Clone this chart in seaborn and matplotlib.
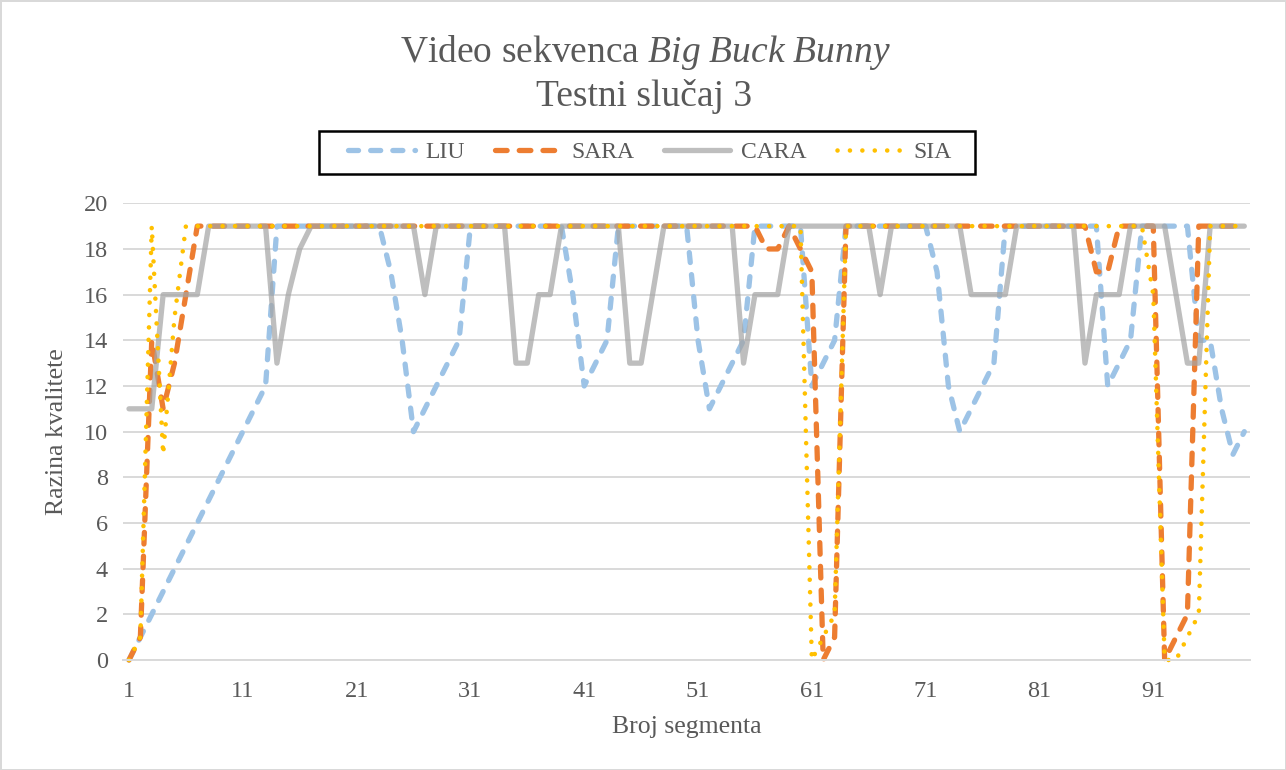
import numpy as np
import pandas as pd
import matplotlib
matplotlib.use("Agg")
import matplotlib.pyplot as plt
import seaborn as sns
from matplotlib.lines import Line2D
from matplotlib.patches import Rectangle

# ---------------- data (segments 1..99, rows of ten) ----------------
segments = np.arange(1, 100)

liu = [0, 1, 2, 3, 4, 5, 6, 7, 8, 9,
       10, 11, 12, 19, 19, 19, 19, 19, 19, 19,
       19, 19, 19, 17, 14, 10, 11, 12, 13, 14,
       19, 19, 19, 19, 19, 19, 19, 19, 19, 16,
       12, 13, 14, 19, 19, 19, 19, 19, 19, 19,
       14, 11, 12, 13, 14, 19, 19, 19, 19, 19,
       12, 13, 14, 19, 19, 19, 19, 19, 19, 19,
       19, 17, 12, 10, 11, 12, 13, 19, 19, 19,
       19, 19, 19, 19, 19, 19, 12, 13, 14, 19,
       19, 19, 19, 19, 14, 14, 11, 9, 10]

sara = [0, 1, 14, 11, 13, 16, 19, 19, 19, 19,
        19, 19, 19, 19, 19, 19, 19, 19, 19, 19,
        19, 19, 19, 19, 19, 19, 19, 19, 19, 19,
        19, 19, 19, 19, 19, 19, 19, 19, 19, 19,
        19, 19, 19, 19, 19, 19, 19, 19, 19, 19,
        19, 19, 19, 19, 19, 19, 18, 18, 19, 18,
        17, 0, 1, 19, 19, 19, 19, 19, 19, 19,
        19, 19, 19, 19, 19, 19, 19, 19, 19, 19,
        19, 19, 19, 19, 19, 17, 17, 19, 19, 19,
        19, 0, 1, 2, 19, 19, 19, 19, 19]

cara = [11, 11, 11, 16, 16, 16, 16, 19, 19, 19,
        19, 19, 19, 13, 16, 18, 19, 19, 19, 19,
        19, 19, 19, 19, 19, 19, 16, 19, 19, 19,
        19, 19, 19, 19, 13, 13, 16, 16, 19, 19,
        19, 19, 19, 19, 13, 13, 16, 19, 19, 19,
        19, 19, 19, 19, 13, 16, 16, 16, 19, 19,
        19, 19, 19, 19, 19, 19, 16, 19, 19, 19,
        19, 19, 19, 19, 16, 16, 16, 16, 19, 19,
        19, 19, 19, 19, 13, 16, 16, 16, 19, 19,
        19, 19, 16, 13, 13, 19, 19, 19, 19]

sia = [0, 1, 19, 9, 15, 19, 19, 19, 19, 19,
       19, 19, 19, 19, 19, 19, 19, 19, 19, 19,
       19, 19, 19, 19, 19, 19, 19, 19, 19, 19,
       19, 19, 19, 19, 19, 19, 19, 19, 19, 19,
       19, 19, 19, 19, 19, 19, 19, 19, 19, 19,
       19, 19, 19, 19, 19, 19, 19, 19, 19, 19,
       0, 1, 2, 19, 19, 19, 19, 19, 19, 19,
       19, 19, 19, 19, 19, 19, 19, 19, 19, 19,
       19, 19, 19, 19, 19, 19, 19, 19, 19, 19,
       16, 0, 0, 1, 2, 19, 19, 19, 19]

series_names = ["LIU", "SARA", "CARA", "SIA"]
x_tick_labels = ["1", "11", "21", "31", "41", "51", "61", "71", "81", "91"]
y_ticks = [0, 2, 4, 6, 8, 10, 12, 14, 16, 18, 20]

title_line1 = r"Video sekvenca $\mathit{Big\ Buck\ Bunny}$"
title_line2 = "Testni slučaj 3"
x_label = "Broj segmenta"
y_label = "Razina kvalitete"

# ---------------- style ----------------
sns.set_theme(style="white")
plt.rcParams["font.family"] = ["Liberation Serif", "DejaVu Serif"]
plt.rcParams["mathtext.fontset"] = "custom"
plt.rcParams["mathtext.rm"] = "Liberation Serif"
plt.rcParams["mathtext.it"] = "Liberation Serif:italic"

TEXT = "#595959"
GRID = "#D9D9D9"

W, H = 1286, 770
fig = plt.figure(figsize=(W / 100, H / 100), dpi=100)
fig.patch.set_facecolor("white")
fig.patch.set_edgecolor(GRID)
fig.patch.set_linewidth(2)

left_px, right_px, top_px, bot_px = 123.3, 1250, 203.3, 660
ax = fig.add_axes([left_px / W, 1 - bot_px / H, (right_px - left_px) / W, (bot_px - top_px) / H])

styles = {
    "LIU": dict(color="#9DC3E6", lw=3.8, dashes=(1.9, 2.3), alpha=1.0),
    "SARA": dict(color="#ED7D31", lw=3.8, dashes=(2.2, 2.3), alpha=1.0),
    "CARA": dict(color="#A5A5A5", lw=3.8, dashes=None, alpha=0.72),
    "SIA": dict(color="#FFC000", lw=3.3, dashes=(0.01, 2.7), alpha=1.0),
}
data = {"LIU": liu, "SARA": sara, "CARA": cara, "SIA": sia}

handles = []
for name in series_names:
    st = styles[name]
    sns.lineplot(x=segments, y=data[name], ax=ax, color=st["color"],
                 linewidth=st["lw"], alpha=st["alpha"], legend=False,
                 sort=False, errorbar=None)
    line = ax.lines[-1]
    if st["dashes"] is not None:
        line.set_linestyle((0, st["dashes"]))
    line.set_dash_capstyle("round")
    line.set_dash_joinstyle("round")
    line.set_solid_capstyle("round")
    line.set_solid_joinstyle("round")
    line.set_clip_on(False)
    ls = (0, st["dashes"]) if st["dashes"] is not None else "-"
    h = Line2D([0], [0], color=st["color"], lw=st["lw"], alpha=st["alpha"],
               linestyle=ls, dash_capstyle="round", solid_capstyle="round")
    handles.append(h)

ax.set_xlim(0.5, 99.5)
ax.set_ylim(0, 20)
ax.set_xlabel("")
ax.set_ylabel("")

ax.set_yticks(y_ticks)
ax.set_yticklabels([str(v) for v in y_ticks])
ax.set_xticks([int(t) for t in x_tick_labels])
ax.set_xticklabels(x_tick_labels)
ax.set_xticks(np.arange(0.5, 99, 5), minor=True)

ax.yaxis.grid(True, color=GRID, linewidth=1.4)
ax.xaxis.grid(False)
ax.set_axisbelow(True)
for s in ["top", "right", "left"]:
    ax.spines[s].set_visible(False)
ax.spines["bottom"].set_color(GRID)
ax.spines["bottom"].set_linewidth(1.4)

ax.tick_params(axis="y", length=0, pad=11, labelsize=17.5, labelcolor=TEXT)
ax.tick_params(axis="x", which="major", length=0, pad=15, labelsize=17.5, labelcolor=TEXT)
ax.tick_params(axis="x", which="minor", length=6, width=1.4, color=GRID, direction="out")

# titles & labels
fig.text(645 / W, 1 - 52 / H, title_line1, ha="center", va="center", fontsize=27, color=TEXT)
fig.text(644 / W, 1 - 96 / H, title_line2, ha="center", va="center", fontsize=27, color=TEXT)
fig.text(686.5 / W, 1 - 727 / H, x_label, ha="center", va="center", fontsize=18.5, color=TEXT)
fig.text(57 / W, 1 - 432 / H, y_label, ha="center", va="center", fontsize=18.5, color=TEXT, rotation=90)

# legend (frame drawn separately to match the wide box)
leg = fig.legend(handles, series_names, loc="center", bbox_to_anchor=(650 / W, 1 - 152.5 / H),
                 ncol=4, frameon=False, fontsize=17,
                 handlelength=2.8, columnspacing=1.27, handletextpad=0.45, borderpad=0.0)
for t in leg.get_texts():
    t.set_color(TEXT)
fig.add_artist(Rectangle((319 / W, 1 - 174 / H), 656 / W, 43 / H, transform=fig.transFigure,
                         fill=False, edgecolor="black", linewidth=1.8))

fig.savefig("out.png", dpi=100, facecolor="white", edgecolor=GRID)
